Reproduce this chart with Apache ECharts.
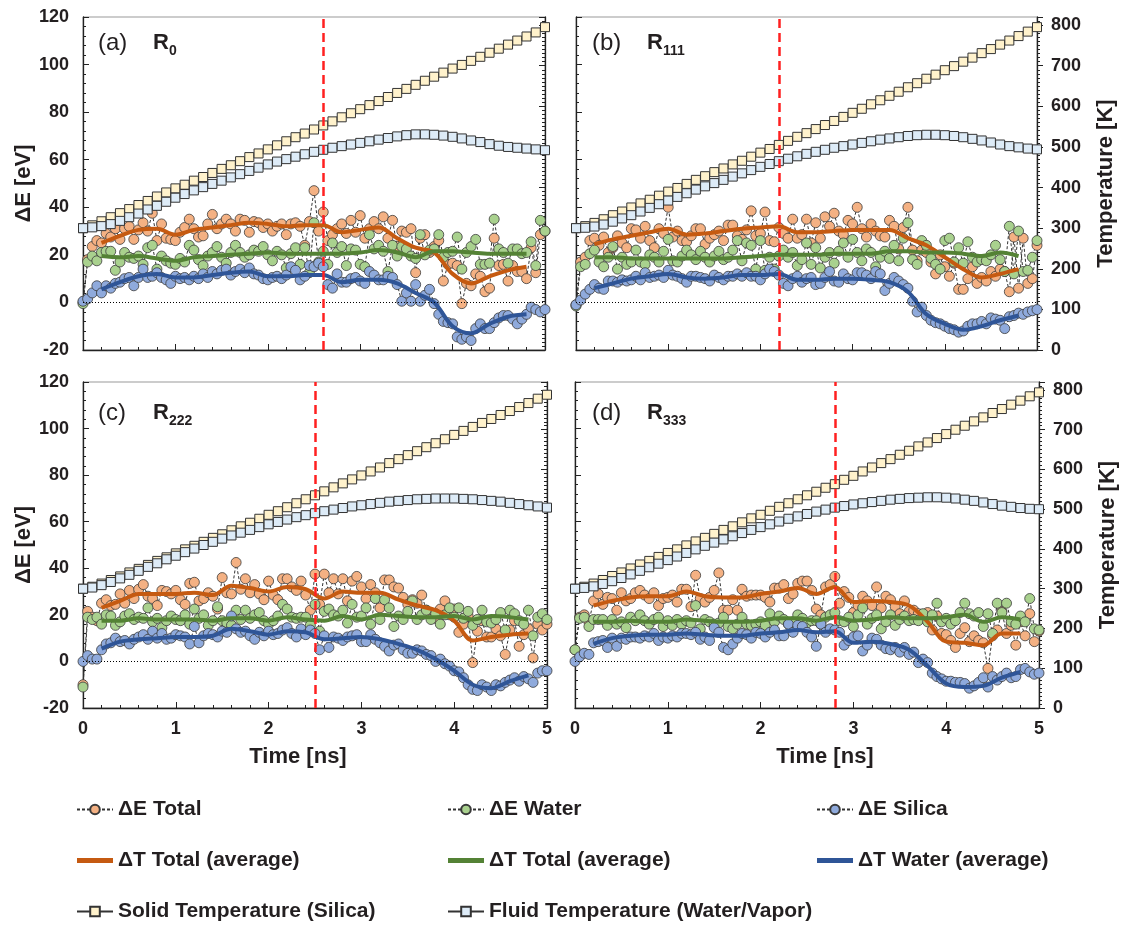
<!DOCTYPE html>
<html>
<head>
<meta charset="utf-8">
<title>ΔE and temperature vs time</title>
<script src="https://cdn.jsdelivr.net/npm/echarts@6.0.0/dist/echarts.min.js"></script>
<style>
  html, body { margin: 0; padding: 0; background: #fff; }
  #chart { width: 1126px; height: 927px; }
</style>
</head>
<body>
<div id="chart"></div>
<script>
// sampling grids (ns)
const timeE = Array.from({ length: 101 }, (_, i) => +(i * 0.05).toFixed(2));   // ΔE samples
const timeAvg = Array.from({ length: 24 }, (_, i) => +(0.2 + i * 0.2).toFixed(1)); // running averages
const timeT = Array.from({ length: 51 }, (_, i) => +(i * 0.1).toFixed(1));     // temperatures

// ---------- (a) R0 ----------
const totalA = [
  0, 18, 23.5, 26, 25, 29, 27.5, 31, 26.5, 31,
  32, 26.5, 30.5, 33.5, 30, 37.5, 26, 33, 27, 26.5,
  26, 29.5, 31.5, 35, 31, 27.5, 28, 33, 37, 31,
  33, 35, 33, 30, 35, 34.5, 29.5, 34, 33.5, 31.5,
  33, 30, 32, 33, 28.5, 33, 33.5, 32, 24, 34,
  47, 30, 38, 26, 28.5, 31, 33, 29, 34.5, 29.5,
  36.5, 27, 31, 34, 31, 36, 27, 34.5, 23.5, 30,
  29.5, 31, 12.5, 27, 28.5, 21, 23.5, 26, 9, 16,
  16.5, 15.5, -0.5, 8, 7, 12, 11, 4.5, 6, 27,
  15.5, 16, 9, 15.5, 13, 13, 10, 23, 12.5, 28.5,
  30];
const waterA = [
  -0.5, 17, 19.5, 17.5, 21, 21.5, 21.5, 13.5, 17, 21,
  19, 18.5, 19.5, 16, 23, 24, 14, 19.5, 17.5, 16.5,
  16, 18.5, 17, 24, 22, 18, 15.5, 19.5, 21, 23.5,
  19, 16.5, 21, 24, 21, 19, 20, 22, 21.5, 23.5,
  20, 17.5, 21.5, 20, 14.5, 20.5, 23, 16, 23, 12.5,
  33.5, 17, 21.5, 16, 25, 21, 23.5, 15.5, 22.5, 22,
  16, 15, 28.5, 22.5, 24, 21.5, 13, 24, 19.5, 23.5,
  22.5, 19.5, 18.5, 28.5, 20, 22, 22.5, 28.5, 19, 21,
  21.5, 27.5, 14, 21, 23.5, 26.5, 16, 16, 16.5, 35,
  22.5, 21, 16.5, 22.5, 22.5, 20.5, 21, 25.5, 15.5, 34.5,
  30];
const silicaA = [
  0.5, 1.5, 4, 7, 4, 7, 6, 8, 8.5, 10,
  10.5, 7, 10.5, 14, 10.5, 11, 12.5, 10.5, 9.5, 8,
  11, 10, 10.5, 9.5, 11, 10, 12, 10.5, 13, 12,
  13.5, 14, 11.5, 13, 14, 12.5, 14.5, 12, 11.5, 10,
  9.5, 10.5, 11, 10, 11.5, 15, 13.5, 9.5, 11, 15.5,
  15, 16.5, 15, 7.5, 6, 12, 8.5, 8.5, 10, 10.5,
  9, 8, 13, 11.5, 9.5, 9.5, 11, 10.5, 7.5, 0.5,
  4, 0.5, 7.5, 0.5, 3, 5.5, -0.5, -5, -8, -8.5,
  -9, -14.5, -15.5, -14.5, -16, -11, -9, -11, -11, -8.5,
  -6.5, -5.5, -5.5, -7, -9, -7, -5, -2, -3, -4,
  -3];
const avgTotalA = [25, 28, 30.5, 31, 28.5, 30.5, 31.5, 32.5, 33.5, 33, 32, 32.5, 32.5, 29.5, 30.5, 31.5, 27, 23, 21, 12, 8, 11, 13.5, 15];
const avgWaterA = [19.5, 19, 19.5, 18.5, 17.5, 19, 19.5, 20, 20.5, 21, 20.5, 20.5, 20.5, 20.5, 21, 22, 21, 19, 21.5, 21.5, 21, 20.5, 20.5, 20.5];
const avgSilicaA = [5.5, 8.5, 11, 12, 10.5, 10.5, 11.5, 12.5, 13, 11, 11, 11.5, 11.5, 8.5, 9.5, 9.5, 8, 4, 0, -10, -13, -9, -6, -5];
const solidA = [300, 307, 317, 327, 337, 347, 357, 367, 378, 388, 398, 407, 417, 426, 436, 446, 455, 465, 475, 484, 494, 504, 514, 524, 533, 543, 553, 563, 573, 583, 593, 603, 613, 623, 633, 643, 653, 663, 673, 683, 693, 702, 712, 722, 732, 742, 752, 762, 772, 782, 795];
const fluidA = [300, 302, 305, 310, 318, 327, 336, 346, 355, 365, 375, 384, 393, 401, 409, 417, 425, 433, 441, 449, 457, 464, 470, 476, 482, 488, 493, 498, 502, 506, 510, 514, 518, 522, 526, 529, 531, 531, 530, 528, 525, 521, 516, 512, 507, 503, 500, 498, 496, 494, 492];

// ---------- (b) R111 ----------
const totalB = [
  -1, 17, 19, 26, 27, 24, 27.5, 21, 23, 28,
  25, 23, 31, 30.5, 27, 32, 26, 23, 31, 29,
  40, 27.5, 30, 26, 25.5, 28, 31, 31, 24.5, 27,
  28.5, 30, 26, 32.5, 32.5, 28, 26.5, 30.5, 38.5, 28,
  29, 38, 26, 25.5, 31.5, 29, 27, 35, 27, 28.5,
  35, 25, 33.5, 27, 36, 32, 37.5, 30, 28.5, 34.5,
  33, 40, 31, 27.5, 33, 30, 28, 27.5, 34.5, 32,
  22.5, 31.5, 40, 22, 17.5, 22, 21, 17, 12, 20,
  15, 11, 16.5, 5.5, 5.5, 10, 15, 8, 10.5, 9,
  13, 11, 14, 13, 4.5, 27.5, 6, 27, 8, 10,
  24];
const waterB = [
  -1.5, 15, 16, 20.5, 22, 17, 15, 19, 23.5, 14,
  19, 16, 17, 22, 17, 16, 20, 19, 17, 21.5,
  26.5, 17.5, 17, 19.5, 22, 20, 18, 21.5, 19, 17,
  19.5, 21.5, 18, 19, 22, 26, 17.5, 25, 24, 14,
  26, 13.5, 19, 14, 19.5, 22, 19, 21, 15.5, 18,
  25, 16, 23, 14.5, 19, 21, 16.5, 21.5, 25, 19,
  26.5, 21, 17.5, 22.5, 21, 15, 19, 21.5, 18.5, 24,
  17.5, 27, 33.5, 18, 16, 26, 24, 18.5, 16, 14,
  26, 27, 17, 23, 16.5, 25.5, 19, 17, 18, 17.5,
  20, 24, 18, 13, 32, 12, 30, 13, 13.5, 19,
  26];
const silicaB = [
  -1, 1, 3.5, 5.5, 7.5, 6, 5.5, 9, 9, 8.5,
  9.5, 9, 9.5, 11, 9.5, 12.5, 10.5, 11, 11.5, 10.5,
  13.5, 11.5, 11, 10, 8.5, 11, 11, 10.5, 10, 9,
  11.5, 10.5, 9.5, 11, 11, 12, 11, 12.5, 11, 11,
  9.5, 12, 14, 13, 11.5, 8, 7, 10, 11, 8.5,
  10, 10.5, 7.5, 8, 10.5, 13, 9, 8.5, 12, 10,
  9.5, 12.5, 12.5, 11.5, 10, 13, 12, 5, 8, 10.5,
  9, 7.5, 6, 0.5, -4, -2, -5.5, -7.5, -8.5, -9,
  -10, -11, -11.5, -12.5, -12, -10, -9, -9, -8, -9,
  -6.5, -7, -7.5, -11, -6, -5.5, -4.5, -5, -4, -3.5,
  -3];
const avgTotalB = [24.5, 26.5, 28, 29.5, 31, 28.5, 29, 30, 31, 31.5, 32, 29.5, 29.5, 30, 30.5, 30.5, 30.5, 27, 24, 19, 14, 10.5, 12, 14];
const avgWaterB = [19, 19, 18.5, 18.5, 18.5, 18.5, 18.5, 18.5, 19, 19.5, 20, 20, 20, 20.5, 20.5, 20.5, 21.5, 21.5, 21, 21, 20.5, 19.5, 21, 19.5];
const avgSilicaB = [6, 8, 10, 11, 12, 10.5, 10, 10.5, 11.5, 11.5, 12, 9.5, 9.5, 10, 10, 9.5, 8.5, 4.5, -5, -9, -11.5, -10, -7.5, -5.5];
const solidB = [300, 305, 313, 322, 332, 341, 351, 361, 370, 380, 390, 399, 409, 419, 428, 438, 447, 457, 466, 476, 486, 495, 505, 515, 525, 534, 544, 554, 564, 574, 584, 594, 605, 615, 626, 636, 647, 657, 668, 678, 689, 699, 710, 720, 731, 741, 752, 762, 773, 784, 795];
const fluidB = [300, 301, 304, 309, 316, 324, 332, 341, 350, 359, 368, 377, 386, 395, 403, 411, 419, 427, 435, 443, 451, 458, 465, 471, 477, 483, 488, 493, 498, 502, 506, 510, 514, 518, 521, 524, 527, 529, 530, 530, 529, 527, 524, 520, 516, 511, 506, 502, 499, 496, 494];

// ---------- (c) R222 ----------
const totalC = [
  -10, 21.5, 19, 17.5, 25, 26.5, 24, 24.5, 29, 25,
  30.5, 27, 31, 33, 28, 27, 24, 30.5, 30, 29,
  30.5, 26.5, 24.5, 33.5, 34, 26, 27, 29.5, 28, 22.5,
  36, 29.5, 29, 42.5, 31, 35.5, 29.5, 33, 29, 26.5,
  34.5, 28.5, 26.5, 35.5, 35.5, 32, 30.5, 34.5, 28.5, 22,
  37.5, 24.5, 37.5, 29.5, 35.5, 29, 35.5, 26, 34.5, 36.5,
  32, 27, 33, 29.5, 23, 35, 35, 32, 31.5, 27.5,
  24.5, 26.5, 25, 28.5, 22, 20.5, 18.5, 22.5, 26, 20,
  22.5, 12.5, 16, 19.5, -0.5, 13, 17.5, 10.5, 10.5, 14,
  11, 3, 13.5, 17.5, 6.5, 11.5, 14, 1.5, 16, 13.5,
  16];
const waterC = [
  -11, 19, 18, 19, 16, 20, 19.5, 15.5, 17, 19.5,
  20.5, 18, 19, 18.5, 23, 17, 18.5, 14.5, 17.5, 19.5,
  18, 17.5, 20, 16, 22.5, 18.5, 20, 15.5, 17.5, 23.5,
  17.5, 16.5, 15.5, 22, 18, 22, 18.5, 20, 21, 17.5,
  16, 17.5, 19.5, 24.5, 22.5, 19, 18.5, 19, 19, 15.5,
  24.5, 13, 21.5, 22.5, 20, 19.5, 22, 16.5, 24.5, 19,
  19.5, 23, 16, 27, 18, 26.5, 23, 15, 19.5, 18,
  21.5, 26, 18, 20, 22, 18, 20.5, 16, 20, 23,
  19, 23, 18.5, 21.5, 15.5, 18, 22, 17, 16.5, 18,
  21, 13.5, 22, 20.5, 17.5, 16, 22, 11, 19, 20.5,
  18];
const silicaC = [
  0, 2.5, 1, 1, 5, 7.5, 8, 10, 8.5, 9,
  7.5, 9.5, 10.5, 11.5, 9.5, 13, 10, 12, 9.5, 10,
  11.5, 11, 10.5, 7.5, 15, 8, 11, 12, 11.5, 10.5,
  13, 12.5, 19.5, 14, 12.5, 13, 11, 9.5, 12.5, 11,
  13, 11.5, 12, 13.5, 14.5, 12, 10.5, 14, 11.5, 13.5,
  12, 5, 11, 6, 10.5, 10, 9, 10.5, 11, 11.5,
  8.5, 8.5, 11.5, 9.5, 8, 6.5, 4.5, 7, 7.5, 5,
  3.5, 3.5, 5, 4.5, 3, 2.5, 0, 1, -1, -2,
  -4, -4.5, -7, -10, -12, -12.5, -10, -11, -12.5, -10,
  -10.5, -9, -8, -7, -8.5, -6.5, -7.5, -9, -5, -4,
  -4];
const avgTotalC = [23, 26, 29, 29, 29, 29.5, 28.5, 32.5, 31.5, 30, 32, 31, 27, 30, 29.5, 29.5, 26.5, 24, 22, 17.5, 9, 10.5, 11.5, 12];
const avgWaterC = [17.5, 17.5, 18.5, 18, 18, 18, 17.5, 18.5, 18.5, 17.5, 19, 18, 17.5, 19.5, 18, 20, 19.5, 19, 19, 19.5, 18, 19.5, 19, 18];
const avgSilicaC = [5.5, 8.5, 9.5, 10, 10.5, 10.5, 11, 14, 13, 11.5, 13, 12.5, 9.5, 10, 10.5, 9.5, 7.5, 5, 1, -4, -10, -11.5, -8.5, -6];
const solidC = [300, 305, 313, 322, 331, 341, 350, 360, 370, 379, 389, 399, 408, 418, 428, 437, 447, 457, 466, 476, 486, 495, 505, 515, 525, 535, 545, 555, 565, 575, 585, 595, 605, 616, 626, 636, 646, 656, 666, 676, 687, 697, 707, 717, 727, 737, 747, 757, 767, 778, 788];
const fluidC = [300, 303, 309, 317, 326, 335, 345, 355, 364, 374, 383, 392, 401, 410, 418, 426, 434, 441, 448, 455, 462, 468, 474, 480, 485, 490, 495, 499, 503, 507, 510, 513, 516, 519, 521, 523, 525, 526, 527, 527, 527, 526, 525, 523, 521, 519, 516, 513, 510, 507, 504];

// ---------- (d) R333 ----------
const totalD = [
  5, 19, 20, 17, 26, 29, 24.5, 27.5, 27, 22,
  29.5, 26, 27, 29.5, 30.5, 28.5, 27, 29.5, 24, 27,
  27.5, 28.5, 25.5, 31, 31, 23.5, 37, 27, 25.5, 27.5,
  30.5, 38, 22, 22, 26.5, 22, 31, 28, 28.5, 28.5,
  28.5, 27.5, 25.5, 31.5, 31.5, 33, 27, 29, 33.5, 34.5,
  34.5, 30.5, 22.5, 20, 32, 33, 36.5, 25, 30, 27.5,
  21, 24, 28, 26, 24, 32, 23, 28, 26.5, 23.5,
  20.5, 26, 21.5, 22, 20.5, 18.5, 21, 13.5, 19.5, 12,
  11.5, 9, 6, 12, 14.5, 8.5, 11, 9, 8, -3,
  11, 13.5, 21.5, 12, 15.5, 7, 17, 11, 20.5, 8.5,
  13];
const waterD = [
  5, 18.5, 19, 15, 18, 18, 18, 15.5, 18, 16,
  17, 14.5, 19, 17.5, 20, 17.5, 16, 18, 19, 15,
  17.5, 15.5, 18, 16, 17.5, 16.5, 24, 14, 18, 17,
  16, 16.5, 19, 15, 14, 16, 19, 16, 15.5, 16,
  17, 15.5, 20.5, 17, 19.5, 18, 16, 17, 20, 18.5,
  16.5, 17.5, 17.5, 16, 19, 20, 21, 17.5, 17, 19,
  15, 20, 23, 16, 18.5, 20, 14, 17, 20, 15.5,
  18, 19.5, 17.5, 18, 17.5, 20.5, 17, 20, 25, 17,
  18.5, 16, 17.5, 21, 25, 20.5, 19.5, 21, 15, 20.5,
  12, 25, 21, 25, 17, 16, 19.5, 17, 27, 14,
  13.5];
const silicaD = [
  0, 2, 3.5, 3, 8, 8.5, 9, 6, 10, 6.5,
  10, 9.5, 10.5, 10.5, 10, 11, 10.5, 12, 9, 10.5,
  10, 11, 10.5, 12, 12, 11.5, 12.5, 9.5, 10.5, 9,
  14.5, 12.5, 6, 5, 7.5, 10, 12, 11.5, 10, 12.5,
  12, 10.5, 12.5, 13.5, 11, 11, 16, 12.5, 15.5, 15,
  12.5, 10.5, 6.5, 16, 12.5, 14, 13.5, 12.5, 7, 9,
  10.5, 11, 4.5, 7, 10, 9.5, 7, 5.5, 5, 6,
  4, 6, 3, 4, -0.5, 1, -0.5, -5, -6.5, -7.5,
  -8.5, -8.5, -9, -9, -9.5, -11.5, -10.5, -9, -7, -11,
  -6.5, -8, -6.5, -5, -7, -6.5, -3.5, -3, -4.5, -5.5,
  -5];
const avgTotalD = [24, 26, 27.5, 28, 28, 30, 28, 27.5, 27.5, 29, 30, 31.5, 29, 32, 25.5, 26, 25.5, 24, 17, 8.5, 8, 7, 12, 12];
const avgWaterD = [17, 17, 17.5, 17, 17, 18, 17.5, 17, 17, 17.5, 18.5, 18.5, 17.5, 19, 17.5, 18, 19, 18.5, 18.5, 19, 20, 17, 19, 18];
const avgSilicaD = [7.5, 10, 11, 11.5, 11.5, 12, 11.5, 11, 11, 12, 12.5, 13.5, 12.5, 13, 8, 8.5, 7.5, 5, -2, -9.5, -11, -10.5, -7, -4.5];
const solidD = [300, 305, 313, 322, 332, 341, 351, 361, 370, 380, 390, 399, 409, 419, 428, 438, 448, 457, 467, 477, 486, 496, 506, 515, 525, 535, 544, 554, 563, 574, 584, 595, 605, 616, 626, 637, 647, 658, 668, 679, 689, 700, 710, 721, 731, 742, 752, 763, 773, 784, 794];
const fluidD = [300, 302, 306, 312, 319, 327, 336, 345, 354, 363, 372, 381, 390, 399, 408, 416, 424, 432, 440, 448, 455, 462, 469, 476, 482, 488, 494, 499, 504, 508, 512, 515, 518, 521, 524, 526, 528, 529, 530, 530, 529, 527, 524, 521, 517, 513, 509, 506, 503, 501, 500];

// time of the red dashed marker in each panel (ns)
const markTimes = [2.6, 2.2, 2.5, 2.8];
const panelTags = ['(a)', '(b)', '(c)', '(d)'];
const panelSubs = ['0', '111', '222', '333'];

const totals = [totalA, totalB, totalC, totalD];
const waters = [waterA, waterB, waterC, waterD];
const silicas = [silicaA, silicaB, silicaC, silicaD];
const avgTotals = [avgTotalA, avgTotalB, avgTotalC, avgTotalD];
const avgWaters = [avgWaterA, avgWaterB, avgWaterC, avgWaterD];
const avgSilicas = [avgSilicaA, avgSilicaB, avgSilicaC, avgSilicaD];
const solids = [solidA, solidB, solidC, solidD];
const fluids = [fluidA, fluidB, fluidC, fluidD];

// ---------- styling ----------
const FONT = 'Liberation Sans, Arial, Helvetica, sans-serif';
const INK = '#231F20';
const COL = {
  total: '#F4B183', water: '#A9D18E', silica: '#8FAADC',
  avgTotal: '#C55A11', avgWater: '#548235', avgSilica: '#2F5597',
  solid: '#FFF2CC', fluid: '#DDEBF7', edge: '#3A3A3A', mark: '#FF2020'
};
const NAMES = {
  total: 'ΔE Total', water: 'ΔE Water', silica: 'ΔE Silica',
  avgTotal: 'ΔT Total (average)', avgWater: 'ΔT Total (average) ', avgSilica: 'ΔT Water (average)',
  solid: 'Solid Temperature (Silica)', fluid: 'Fluid Temperature (Water/Vapor)'
};

// panel layout and which sides carry labels
const grids = [
  { left: 83, top: 17, width: 462, height: 333 },
  { left: 576, top: 17, width: 461, height: 333 },
  { left: 83, top: 382, width: 464, height: 326 },
  { left: 575, top: 382, width: 464, height: 326 }
];
const isLeft = [true, false, true, false];
const isBottom = [false, false, true, true];
const tagPos = [[98, 28], [592, 28], [98, 398], [592, 398]];
const timeNamePad = [null, null, [0, 34, 0, 0], [0, 0, 0, 36]];

const labelStyle = { fontFamily: FONT, fontSize: 18, fontWeight: 'bold', color: INK };
const nameStyle = { fontFamily: FONT, fontSize: 22, fontWeight: 'bold', color: INK };

const xAxes = [], yAxes = [], series = [], titles = [];

grids.forEach((g, i) => {
  xAxes.push({
    gridIndex: i, type: 'value', min: 0, max: 5, interval: 1,
    axisLine: { onZero: false, lineStyle: { color: '#222', width: 1.3 } },
    axisTick: { inside: true, length: 6, lineStyle: { color: '#222' } },
    minorTick: { show: true, splitNumber: 5, length: 3, lineStyle: { color: '#222' } },
    splitLine: { show: false },
    axisLabel: { show: isBottom[i], margin: 12, ...labelStyle },
    name: isBottom[i] ? 'Time [ns]' : '',
    nameLocation: 'middle', nameGap: 38,
    nameTextStyle: { ...nameStyle, padding: timeNamePad[i] || 0 }
  });
  yAxes.push({
    gridIndex: i, type: 'value', position: 'left', min: -20, max: 120, interval: 20,
    axisLine: { show: true, onZero: false, lineStyle: { color: '#222', width: 1.3 } },
    axisTick: { inside: true, length: 6, lineStyle: { color: '#222' } },
    minorTick: { show: true, splitNumber: 5, length: 3, lineStyle: { color: '#222' } },
    splitLine: { show: false },
    axisLabel: { show: isLeft[i], margin: 14, ...labelStyle },
    name: isLeft[i] ? 'ΔE [eV]' : '',
    nameLocation: 'middle', nameRotate: 90, nameGap: 42, nameTextStyle: nameStyle
  });
  yAxes.push({
    gridIndex: i, type: 'value', position: 'right', min: 0, max: 820, interval: 100,
    axisLine: { show: true, onZero: false, lineStyle: { color: '#222', width: 1.3 } },
    axisTick: { inside: isLeft[i], length: 6, lineStyle: { color: '#222' } },
    minorTick: { show: true, splitNumber: 10, length: 3, lineStyle: { color: '#222' } },
    splitLine: { show: false },
    axisLabel: {
      show: !isLeft[i], margin: 14, showMaxLabel: false, ...labelStyle,
      formatter: v => (v % 100 === 0 ? String(v) : '')
    },
    name: isLeft[i] ? '' : 'Temperature [K]',
    nameLocation: 'middle', nameRotate: 90, nameGap: 58, nameTextStyle: nameStyle
  });

  titles.push({
    text: `{p|${panelTags[i]}}{r|R}{s|${panelSubs[i]}}`,
    left: tagPos[i][0], top: tagPos[i][1], padding: 0,
    textStyle: {
      rich: {
        p: { fontFamily: FONT, fontSize: 24, fontWeight: 'normal', color: INK, width: 55, lineHeight: 30 },
        r: { fontFamily: FONT, fontSize: 22, fontWeight: 'bold', color: INK, lineHeight: 30 },
        s: { fontFamily: FONT, fontSize: 14, fontWeight: 'bold', color: INK, lineHeight: 14, verticalAlign: 'bottom' }
      }
    }
  });

  const dots = (key, data) => ({
    name: NAMES[key], type: 'line', xAxisIndex: i, yAxisIndex: i * 2,
    data: timeE.map((t, k) => [t, data[k]]),
    symbol: 'circle', symbolSize: 10, showSymbol: true, color: COL[key],
    itemStyle: { color: COL[key], borderColor: COL.edge, borderWidth: 0.8 },
    lineStyle: { color: '#333', width: 1, type: [3, 2] },
    emphasis: { disabled: true }, z: 2
  });
  const avg = (key, data) => ({
    name: NAMES[key], type: 'line', xAxisIndex: i, yAxisIndex: i * 2,
    data: timeAvg.map((t, k) => [t, data[k]]),
    symbol: 'none', smooth: 0.35, color: COL[key],
    lineStyle: { color: COL[key], width: 4 },
    emphasis: { disabled: true }, z: 3
  });
  const temp = (key, data) => ({
    name: NAMES[key], type: 'line', xAxisIndex: i, yAxisIndex: i * 2 + 1,
    data: timeT.map((t, k) => [t, data[k]]),
    symbol: 'rect', symbolSize: 9, color: COL[key],
    itemStyle: { color: COL[key], borderColor: '#333', borderWidth: 1 },
    lineStyle: { color: '#333', width: 1 },
    emphasis: { disabled: true }, z: 4
  });

  const first = dots('total', totals[i]);
  first.markLine = {
    silent: true, symbol: 'none', label: { show: false }, z: 6,
    data: [
      { yAxis: 0, lineStyle: { color: '#000', width: 1, type: [1, 2] } },
      { xAxis: markTimes[i], lineStyle: { color: COL.mark, width: 2.5, type: [9, 5] } }
    ]
  };
  series.push(
    first,
    dots('water', waters[i]),
    dots('silica', silicas[i]),
    avg('avgTotal', avgTotals[i]),
    avg('avgWater', avgWaters[i]),
    avg('avgSilica', avgSilicas[i]),
    temp('solid', solids[i]),
    temp('fluid', fluids[i])
  );
});

const bar = 'path://M0,0H36V5H0Z';
const legendBase = {
  orient: 'vertical', top: 799, itemWidth: 36, itemHeight: 12, itemGap: 30, padding: 0,
  selectedMode: false, formatter: n => n.trim(),
  textStyle: { fontFamily: FONT, fontSize: 21, fontWeight: 'bold', color: INK }
};

const chart = echarts.init(document.getElementById('chart'));
chart.setOption({
  animation: false,
  backgroundColor: '#fff',
  title: titles,
  grid: grids.map(g => ({ ...g, show: true, borderColor: '#999', borderWidth: 1, backgroundColor: 'transparent', outerBoundsMode: 'none' })),
  xAxis: xAxes,
  yAxis: yAxes,
  legend: [
    { ...legendBase, left: 76, data: [NAMES.total, { name: NAMES.avgTotal, icon: bar }, NAMES.solid] },
    { ...legendBase, left: 447, data: [NAMES.water, { name: NAMES.avgWater, icon: bar }, NAMES.fluid] },
    { ...legendBase, left: 816, data: [NAMES.silica, { name: NAMES.avgSilica, icon: bar }] }
  ],
  series
});
</script>
</body>
</html>
